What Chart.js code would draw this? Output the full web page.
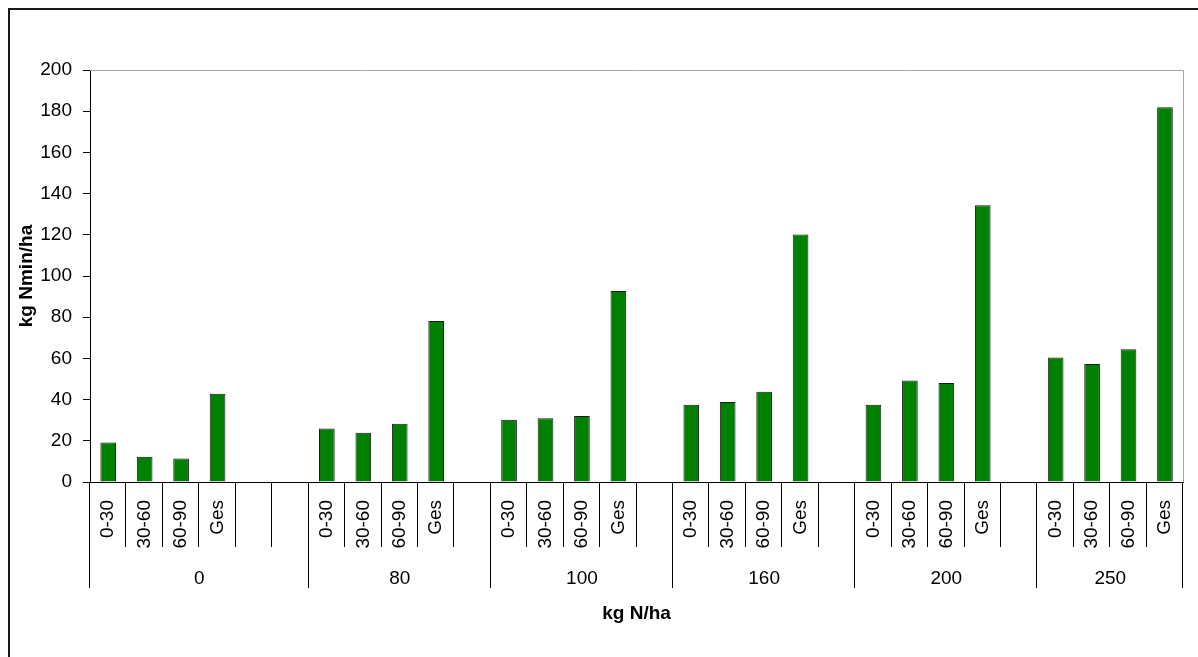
<!DOCTYPE html>
<html>
<head>
<meta charset="utf-8">
<script src="https://cdn.jsdelivr.net/npm/chart.js@4/dist/chart.umd.min.js"></script>
<style>
  html, body { margin: 0; padding: 0; background: #fff; }
  #wrap { width: 1198px; height: 657px; }
</style>
</head>
<body>
<div id="wrap"><canvas id="chart" width="1198" height="657"></canvas></div>
<script>
'use strict';

// N levels (kg N/ha) and soil layers
const groups = ['0', '80', '100', '160', '200', '250'];
const layers = ['0-30', '30-60', '60-90', 'Ges'];
// empty slots after each group on the axis
const gaps = [2, 1, 1, 1, 1, 0];

// kg Nmin/ha per layer, one array per N level
const n0   = [19.2, 12.2, 11.4, 42.9];
const n80  = [26.0, 23.9, 28.3, 78.2];
const n100 = [30.2, 31.0, 32.0, 92.7];
const n160 = [37.5, 38.8, 43.8, 120.1];
const n200 = [37.5, 49.3, 48.0, 134.4];
const n250 = [60.4, 57.3, 64.4, 181.9];

const yMin = 0;
const yMax = 200;
const yStep = 20;

const fontFamily = 'Arial, "Liberation Sans", sans-serif';

let seriesList = [n0, n80, n100, n160, n200, n250];
let labels = [];
let values = [];
let groupStart = [];

for (let g = 0; g < groups.length; g++) {
    groupStart.push(labels.length);
    for (let i = 0; i < layers.length; i++) {
        labels.push(layers[i]);
        values.push(seriesList[g][i]);
    }
    for (let k = 0; k < gaps[g]; k++) {
        labels.push('');
        values.push(null);
    }
}

// tick marks of both axis levels, group names, frame
const axisGroups = {
    id: 'axisGroups',
    beforeDraw(chart) {
        let ctx = chart.ctx;
        ctx.save();
        ctx.strokeStyle = '#1a1a1a';
        ctx.lineWidth = 2;
        ctx.strokeRect(9, 9, chart.width + 20, chart.height + 20);
        ctx.restore();
    },
    beforeDatasetsDraw(chart) {
        let ctx = chart.ctx;
        let a = chart.chartArea;
        ctx.save();
        ctx.strokeStyle = '#a6a6a6';
        ctx.lineWidth = 1;
        ctx.beginPath();
        ctx.moveTo(a.left, Math.round(a.top) + 0.5);
        ctx.lineTo(Math.round(a.right) + 0.5, Math.round(a.top) + 0.5);
        ctx.lineTo(Math.round(a.right) + 0.5, a.bottom);
        ctx.stroke();
        ctx.restore();
    },
    afterDraw(chart) {
        let x = chart.scales.x;
        let ctx = chart.ctx;
        let a = chart.chartArea;
        let edge = function (i) {
            if (i <= 0) return a.left;
            if (i >= labels.length) return a.right;
            return (x.getPixelForValue(i - 1) + x.getPixelForValue(i)) / 2;
        };
        ctx.save();
        ctx.strokeStyle = '#000';
        ctx.lineWidth = 1;
        ctx.beginPath();
        for (let i = 0; i <= labels.length; i++) {
            let px = Math.round(edge(i)) - 0.5;
            let isGroup = i === labels.length || groupStart.includes(i);
            ctx.moveTo(px, a.bottom);
            ctx.lineTo(px, a.bottom + (isGroup ? 106 : 65));
        }
        ctx.stroke();

        ctx.fillStyle = '#000';
        ctx.font = '19px ' + fontFamily;
        ctx.textAlign = 'center';
        ctx.textBaseline = 'middle';
        for (let k = 0; k < groups.length; k++) {
            let end = k + 1 < groups.length ? groupStart[k + 1] : labels.length;
            ctx.fillText(groups[k], (edge(groupStart[k]) + edge(end)) / 2, a.bottom + 97);
        }
        ctx.restore();
    }
};

new Chart(document.getElementById('chart'), {
    type: 'bar',
    data: {
        labels: labels,
        datasets: [{
            data: values,
            backgroundColor: '#008000',
            borderColor: '#1a1a1a',
            borderWidth: 1,
            categoryPercentage: 1,
            barPercentage: 0.43
        }]
    },
    options: {
        responsive: false,
        animation: false,
        layout: { padding: { left: 15, right: 14, top: 70, bottom: 32 } },
        plugins: {
            legend: { display: false },
            tooltip: { enabled: false }
        },
        scales: {
            x: {
                offset: true,
                grid: { display: false },
                border: { display: true, color: '#000', width: 1 },
                ticks: {
                    autoSkip: false,
                    minRotation: 90,
                    maxRotation: 90,
                    padding: 10,
                    color: '#000',
                    font: { family: fontFamily, size: 19 }
                },
                title: {
                    display: true,
                    text: 'kg N/ha',
                    color: '#000',
                    padding: 0,
                    font: { family: fontFamily, size: 19, weight: 'bold' }
                },
                afterFit(scale) { scale.height = 143; }
            },
            y: {
                min: yMin,
                max: yMax,
                grid: { drawOnChartArea: false, drawTicks: true, tickLength: 7, color: '#000' },
                border: { display: true, color: '#000', width: 1 },
                ticks: {
                    stepSize: yStep,
                    padding: 11,
                    color: '#000',
                    font: { family: fontFamily, size: 19 }
                },
                title: {
                    display: true,
                    text: 'kg Nmin/ha',
                    color: '#000',
                    padding: 0,
                    font: { family: fontFamily, size: 19, weight: 'bold' }
                },
                afterFit(scale) { scale.width = 75; }
            }
        }
    },
    plugins: [axisGroups]
});
</script>
</body>
</html>
